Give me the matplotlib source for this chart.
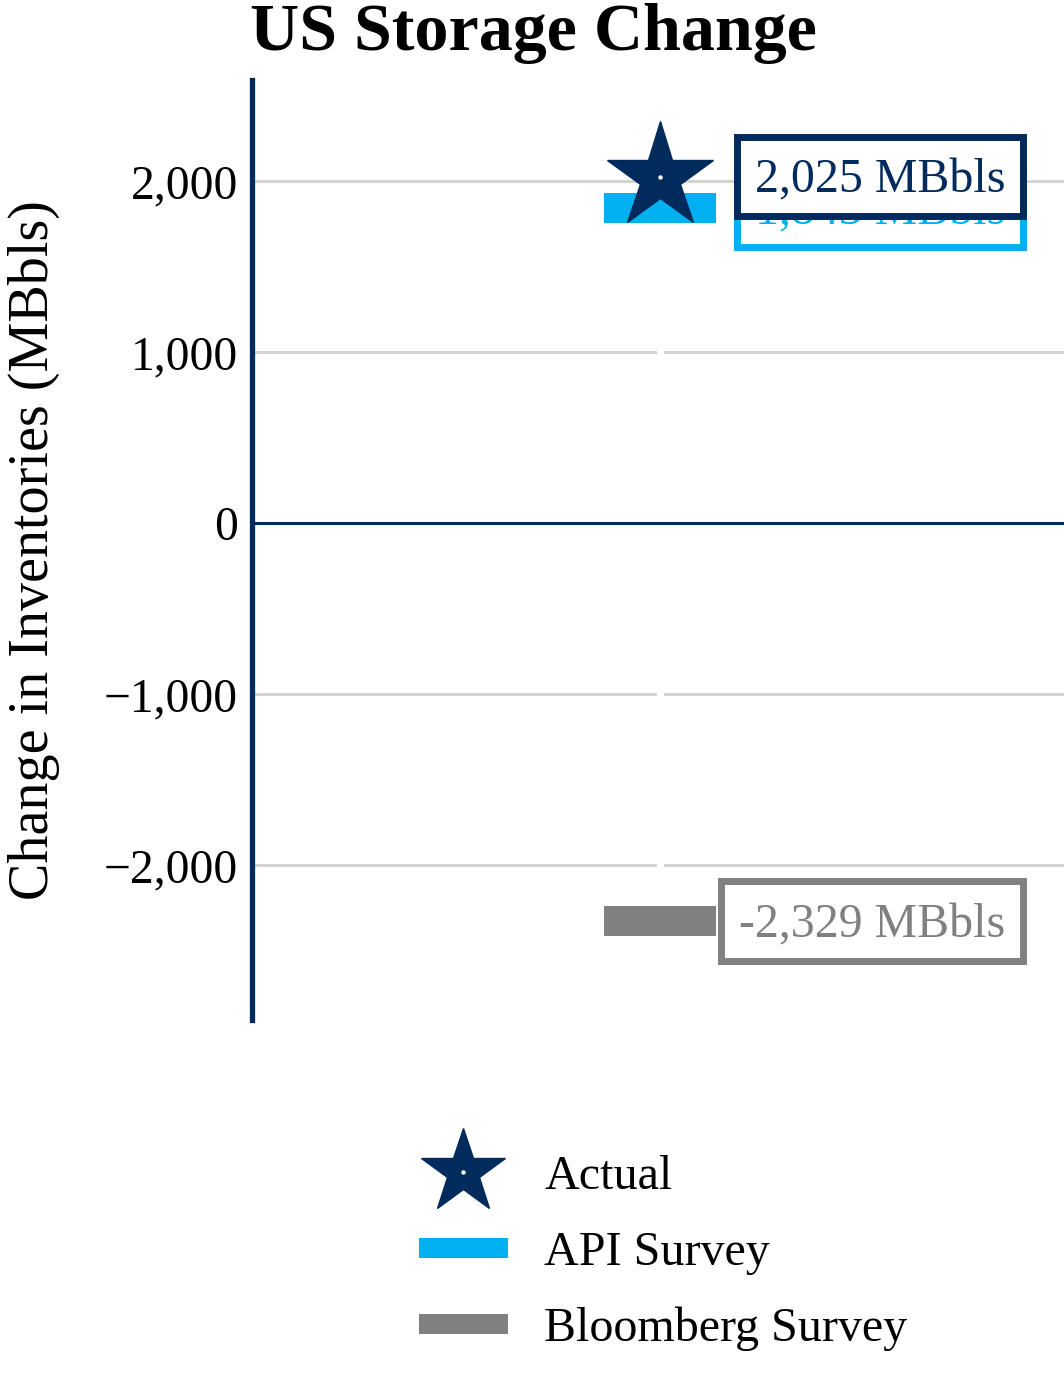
import matplotlib
matplotlib.use("Agg")
import matplotlib.pyplot as plt
from matplotlib.lines import Line2D
from matplotlib.path import Path
from matplotlib.ticker import FuncFormatter, FixedLocator
from matplotlib.legend_handler import HandlerTuple

# ---- data ----
category = ["Week"]
series_names = ["Actual", "API Survey", "Bloomberg Survey"]
actual = [2025]
api = [1843]
bloomberg = [-2329]
yticks = [-2000, -1000, 0, 1000, 2000]
title = "US Storage Change"
ylabel = "Change in Inventories (MBbls)"

NAVY = "#002b5c"
CYAN = "#00b0f0"
GRAY = "#808080"
GRID = "#d3d3d3"

plt.rcParams["font.family"] = ["Liberation Serif", "DejaVu Serif"]

fig = plt.figure(figsize=(10.64, 13.8), dpi=100)
ax = fig.add_axes([252 / 1064, 1 - 1020 / 1380, 816 / 1064, 940 / 1380])
ax.set_xlim(-1, 1)
ax.set_ylim(-2906, 2591)

# grid
for t in yticks:
    if t == 0:
        continue
    ax.axhline(t, color=GRID, lw=2.2, zorder=1)
ax.axvline(0, color="white", lw=5, zorder=1.5)
ax.axhline(0, color=NAVY, lw=2.2, zorder=2)

# bars (API / Bloomberg) as thick horizontal segments
half = 0.138
ax.hlines(api, [-half], [half], colors=CYAN, lw=21.6, zorder=3,
          capstyle="butt")
ax.hlines(bloomberg, [-half], [half], colors=GRAY, lw=21.6, zorder=3,
          capstyle="butt")
# star
ax.plot([0], actual, marker="*", ms=80, color=NAVY, mec=NAVY, ls="none", zorder=4)
ax.plot([0], actual, marker="o", ms=2.2, color="white", mec="white", ls="none", zorder=5)


# square box with the text sitting slightly low inside it
def raised_box(x0, y0, width, height, mutation_size):
    pad = 0.37 * mutation_size
    lift = 0.09 * mutation_size
    xa, xb = x0 - pad, x0 + width + pad
    ya, yb = y0 - pad + lift, y0 + height + pad + lift
    return Path([(xa, ya), (xb, ya), (xb, yb), (xa, yb), (xa, ya)], closed=True)


def lab(v, color, z):
    ax.annotate(f"{v:,.0f} MBbls", xy=(0.923, v), xycoords=("axes fraction", "data"),
                xytext=(0, -3), textcoords="offset points",
                ha="right", va="center", fontsize=34.5, color=color, zorder=z,
                bbox=dict(boxstyle=raised_box, fc="white", ec=color, lw=5),
                annotation_clip=False)


lab(api[0], CYAN, 6)
lab(actual[0], NAVY, 7)
lab(bloomberg[0], GRAY, 6)

# axes styling
for s in ["top", "right", "bottom"]:
    ax.spines[s].set_visible(False)
ax.spines["left"].set_color(NAVY)
ax.spines["left"].set_linewidth(3.8)
ax.spines["left"].set_zorder(8)
ax.set_xticks([])
ax.yaxis.set_major_locator(FixedLocator(yticks))
ax.yaxis.set_major_formatter(FuncFormatter(lambda x, p: f"{x:,.0f}".replace("-", "\u2212")))
ax.tick_params(axis="y", length=0, pad=10, labelsize=34.3)
ax.set_ylabel(ylabel, fontsize=40.4)
ax.yaxis.set_label_coords((60 - 252) / 816, 0.5)

fig.text(250 / 1064, 1 - 34 / 1380, title, fontsize=49, fontweight="bold",
         ha="left", va="center")

# legend
h_star = (Line2D([], [], marker="*", ms=64, color=NAVY, ls="none"),
          Line2D([], [], marker="o", ms=2.2, color="white", ls="none"))
h_api = Line2D([], [], color=CYAN, lw=14.4, solid_capstyle="butt")
h_bb = Line2D([], [], color=GRAY, lw=14.4, solid_capstyle="butt")
fig.legend([h_star, h_api, h_bb], series_names, loc="upper left",
           bbox_to_anchor=(419 / 1064, 1 - 1155 / 1380), frameon=False,
           fontsize=34.6, handlelength=1.85, handletextpad=0.76, labelspacing=0.66,
           borderpad=0, borderaxespad=0,
           handler_map={tuple: HandlerTuple(ndivide=1, pad=0)})

fig.savefig("out.png", dpi=100)
